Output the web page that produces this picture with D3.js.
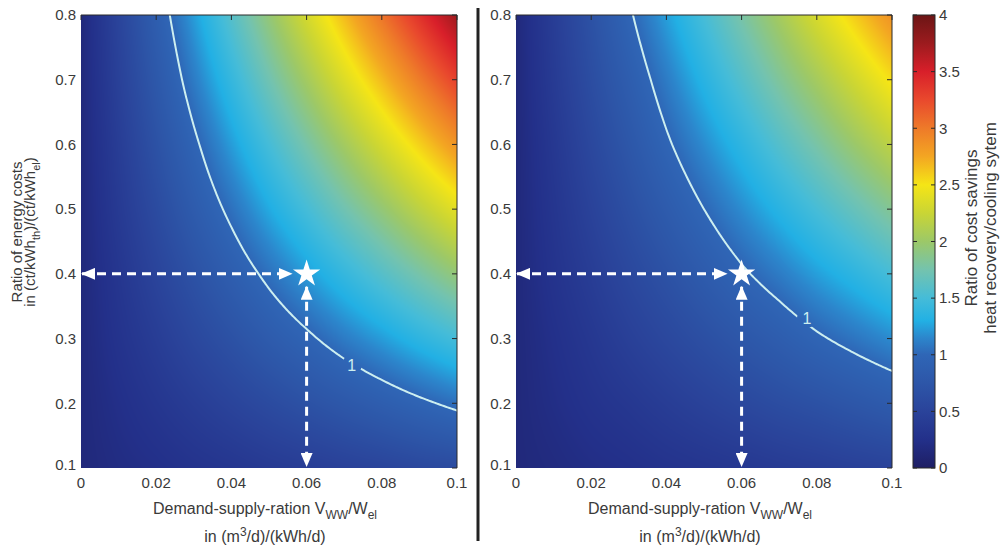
<!DOCTYPE html>
<html>
<head>
<meta charset="utf-8">
<script src="https://cdn.jsdelivr.net/npm/d3@7"></script>
<style>
  body { margin: 0; background: #fff; }
  text { font-family: "Liberation Sans", Arial, sans-serif; fill: #3a3a3a; }
</style>
</head>
<body>
<svg></svg>
<script>
//data grid (rows: y from 0.1 up to 0.8, columns: x from 0 to 0.1)
const xGrid = [0, 0.01, 0.02, 0.03, 0.04, 0.05, 0.06, 0.07, 0.08, 0.09, 0.1];
const yGrid = [0.1, 0.2, 0.3, 0.4, 0.5, 0.6, 0.7, 0.8];

const leftValues = [
  [0.15, 0.20, 0.24, 0.29, 0.33, 0.38, 0.42, 0.47, 0.51, 0.56, 0.60],
  [0.15, 0.24, 0.33, 0.42, 0.51, 0.60, 0.69, 0.78, 0.87, 0.96, 1.05],
  [0.15, 0.29, 0.42, 0.56, 0.69, 0.83, 0.96, 1.10, 1.23, 1.37, 1.50],
  [0.15, 0.33, 0.51, 0.69, 0.87, 1.05, 1.23, 1.41, 1.59, 1.77, 1.95],
  [0.15, 0.38, 0.60, 0.83, 1.05, 1.28, 1.50, 1.73, 1.95, 2.18, 2.40],
  [0.15, 0.42, 0.69, 0.96, 1.23, 1.50, 1.77, 2.04, 2.31, 2.58, 2.85],
  [0.15, 0.47, 0.78, 1.10, 1.41, 1.73, 2.04, 2.36, 2.67, 2.99, 3.30],
  [0.15, 0.51, 0.87, 1.23, 1.59, 1.95, 2.31, 2.67, 3.03, 3.39, 3.75]
];

const rightValues = [
  [0.15, 0.18, 0.22, 0.25, 0.29, 0.32, 0.35, 0.39, 0.42, 0.46, 0.49],
  [0.15, 0.22, 0.29, 0.35, 0.42, 0.49, 0.56, 0.63, 0.69, 0.76, 0.83],
  [0.15, 0.25, 0.35, 0.46, 0.56, 0.66, 0.76, 0.86, 0.97, 1.07, 1.17],
  [0.15, 0.29, 0.42, 0.56, 0.69, 0.83, 0.97, 1.10, 1.24, 1.37, 1.51],
  [0.15, 0.32, 0.49, 0.66, 0.83, 1.00, 1.17, 1.34, 1.51, 1.68, 1.85],
  [0.15, 0.35, 0.56, 0.76, 0.97, 1.17, 1.37, 1.58, 1.78, 1.99, 2.19],
  [0.15, 0.39, 0.63, 0.86, 1.10, 1.34, 1.58, 1.82, 2.05, 2.29, 2.53],
  [0.15, 0.42, 0.69, 0.97, 1.24, 1.51, 1.78, 2.05, 2.33, 2.60, 2.87]
];

const xTicks = [0, 0.02, 0.04, 0.06, 0.08, 0.1];
const yTicks = [0.1, 0.2, 0.3, 0.4, 0.5, 0.6, 0.7, 0.8];
const colorTicks = [0, 0.5, 1, 1.5, 2, 2.5, 3, 3.5, 4];
const contourLevels = [1];
const labelPoints = [{x: 0.072, y: 0.259}, {x: 0.0774, y: 0.332}];
const markPoint = {x: 0.06, y: 0.4};

//muted jet colormap, as printed
const cmapStops = [0, 0.25, 0.5, 0.75, 1, 1.15, 1.3, 1.5, 1.75, 2, 2.25, 2.5, 2.75, 3, 3.25, 3.5, 3.75, 4];
const cmapColors = ["#1e1e64", "#23308a", "#2a439a", "#2d56a8", "#2f66b6", "#2c86cc", "#22b0e4", "#45bcd8",
  "#74c3ae", "#9cc868", "#c9d535", "#f5e516", "#f3a622", "#ee7a29", "#e9492d", "#d81f2a", "#9c1b1e", "#6c1515"];
const color = d3.scaleLinear().domain(cmapStops).range(cmapColors).clamp(true);

//Set the dimensions of the SVG container
const width = 1008;
const height = 549;
const plotTop = 15, plotBottom = 468;
const panels = [
  {left: 81, right: 457, values: leftValues, label: labelPoints[0]},
  {left: 516, right: 892, values: rightValues, label: labelPoints[1]}
];

const svg = d3.select("svg")
  .attr("width", width)
  .attr("height", height);

const defs = svg.append("defs");

//arrow head
defs.append("marker")
  .attr("id", "arrow")
  .attr("viewBox", "0 0 14 12")
  .attr("refX", 13).attr("refY", 6)
  .attr("markerWidth", 14).attr("markerHeight", 12)
  .attr("markerUnits", "userSpaceOnUse")
  .attr("orient", "auto-start-reverse")
  .append("path")
  .attr("d", "M0,0 L14,6 L0,12 Z")
  .attr("fill", "#fff");

//bilinear lookup in the grid
const gx = d3.scaleLinear().domain([xGrid[0], xGrid[xGrid.length - 1]]).range([0, xGrid.length - 1]);
const gy = d3.scaleLinear().domain([yGrid[0], yGrid[yGrid.length - 1]]).range([0, yGrid.length - 1]);
function valueAt(m, x, y) {
  const fx = gx(x), fy = gy(y);
  const i = Math.max(0, Math.min(xGrid.length - 2, Math.floor(fx)));
  const j = Math.max(0, Math.min(yGrid.length - 2, Math.floor(fy)));
  const tx = fx - i, ty = fy - j;
  const a = m[j][i] * (1 - tx) + m[j][i + 1] * tx;
  const b = m[j + 1][i] * (1 - tx) + m[j + 1][i + 1] * tx;
  return a * (1 - ty) + b * ty;
}

panels.forEach((p, k) => {
  const x = d3.scaleLinear().domain([0, 0.1]).range([p.left, p.right]);
  const y = d3.scaleLinear().domain([0.1, 0.8]).range([plotBottom, plotTop]);
  const pw = p.right - p.left, ph = plotBottom - plotTop;

  //heatmap through a canvas
  const canvas = document.createElement("canvas");
  canvas.width = pw; canvas.height = ph;
  const ctx = canvas.getContext("2d");
  const img = ctx.createImageData(pw, ph);
  for (let r = 0; r < ph; r++) {
    const yv = y.invert(plotTop + r + 0.5);
    for (let c = 0; c < pw; c++) {
      const xv = x.invert(p.left + c + 0.5);
      const col = d3.rgb(color(valueAt(p.values, xv, yv)));
      const o = (r * pw + c) * 4;
      img.data[o] = col.r; img.data[o + 1] = col.g; img.data[o + 2] = col.b; img.data[o + 3] = 255;
    }
  }
  ctx.putImageData(img, 0, 0);
  svg.append("image")
    .attr("x", p.left).attr("y", plotTop)
    .attr("width", pw).attr("height", ph)
    .attr("preserveAspectRatio", "none")
    .attr("href", canvas.toDataURL());

  //contour line, sampled a bit past the edges and clipped
  const x0 = -0.01, x1 = 0.11, y0 = 0.05, y1 = 0.85;
  const nx = 241, ny = 161;
  const sx = (x1 - x0) / (nx - 1), sy = (y1 - y0) / (ny - 1);
  const grid = new Array(nx * ny);
  for (let j = 0; j < ny; j++)
    for (let i = 0; i < nx; i++)
      grid[j * nx + i] = valueAt(p.values, x0 + i * sx, y0 + j * sy);
  const contours = d3.contours().size([nx, ny]).thresholds(contourLevels)(grid);
  const path = d3.geoPath(d3.geoTransform({
    point(px, py) { this.stream.point(x(x0 + (px - 0.5) * sx), y(y0 + (py - 0.5) * sy)); }
  }));

  defs.append("clipPath").attr("id", "clip" + k)
    .append("rect").attr("x", p.left).attr("y", plotTop).attr("width", pw).attr("height", ph);
  const mask = defs.append("mask").attr("id", "mask" + k)
    .attr("maskUnits", "userSpaceOnUse")
    .attr("x", 0).attr("y", 0).attr("width", width).attr("height", height);
  mask.append("rect").attr("width", width).attr("height", height).attr("fill", "#fff");
  mask.append("circle").attr("cx", x(p.label.x)).attr("cy", y(p.label.y)).attr("r", 10).attr("fill", "#000");

  svg.append("g").attr("clip-path", `url(#clip${k})`)
    .append("g").attr("mask", `url(#mask${k})`)
    .selectAll("path").data(contours).enter().append("path")
    .attr("d", path)
    .attr("fill", "none")
    .attr("stroke", "#cdeff0")
    .attr("stroke-width", 2);

  svg.append("text")
    .attr("x", x(p.label.x)).attr("y", y(p.label.y))
    .attr("text-anchor", "middle").attr("dy", "0.36em")
    .style("fill", "#cdeff0").style("font-size", "16px")
    .text(contourLevels[0]);

  //arrows and star
  const sxp = x(markPoint.x), syp = y(markPoint.y);
  svg.append("line")
    .attr("x1", x(0) + 1).attr("y1", syp).attr("x2", sxp - 15).attr("y2", syp)
    .attr("stroke", "#fff").attr("stroke-width", 3).attr("stroke-dasharray", "9,6")
    .attr("marker-start", "url(#arrow)").attr("marker-end", "url(#arrow)");
  svg.append("line")
    .attr("x1", sxp).attr("y1", syp + 13).attr("x2", sxp).attr("y2", y(0.1) - 2)
    .attr("stroke", "#fff").attr("stroke-width", 3).attr("stroke-dasharray", "9,6")
    .attr("marker-start", "url(#arrow)").attr("marker-end", "url(#arrow)");
  svg.append("path")
    .attr("transform", `translate(${sxp},${syp})`)
    .attr("d", d3.symbol(d3.symbolStar, 230)())
    .attr("fill", "#fff");

  //axes: ticks pointing inward like matlab
  const g = svg.append("g");
  g.append("path")
    .attr("d", `M${p.left},${plotTop}H${p.right}V${plotBottom}`)
    .attr("fill", "none").attr("stroke", "#2a2a2a").attr("stroke-width", 1);
  xTicks.forEach(t => {
    g.append("line").attr("x1", x(t)).attr("x2", x(t)).attr("y1", plotTop).attr("y2", plotTop + 5)
      .attr("stroke", "#2a2a2a");
    g.append("text").attr("x", x(t)).attr("y", plotBottom + 20)
      .attr("text-anchor", "middle").style("font-size", "15px")
      .text(d3.format("~g")(t));
  });
  yTicks.forEach(t => {
    g.append("line").attr("x1", p.right).attr("x2", p.right - 5).attr("y1", y(t)).attr("y2", y(t))
      .attr("stroke", "#2a2a2a");
    g.append("text").attr("x", p.left - 5).attr("y", y(t) - (t === 0.1 ? 3 : 0))
      .attr("text-anchor", "end").attr("dy", "0.35em").style("font-size", "15px")
      .text(d3.format(".1f")(t));
  });

  //x label
  const cx = (p.left + p.right) / 2 - 4;
  const l1 = g.append("text").attr("x", cx).attr("y", 514).attr("text-anchor", "middle").style("font-size", "16px");
  l1.append("tspan").text("Demand-supply-ration V");
  l1.append("tspan").attr("dy", 5).style("font-size", "12px").text("WW");
  l1.append("tspan").attr("dy", -5).text("/W");
  l1.append("tspan").attr("dy", 5).style("font-size", "12px").text("el");
  const l2 = g.append("text").attr("x", cx).attr("y", 542).attr("text-anchor", "middle").style("font-size", "16px");
  l2.append("tspan").text("in (m");
  l2.append("tspan").attr("dy", -6).style("font-size", "12px").text("3");
  l2.append("tspan").attr("dy", 6).text("/d)/(kWh/d)");
});

//y label
const yl = svg.append("g").attr("transform", "translate(0,232) rotate(-90)");
yl.append("text").attr("x", 0).attr("y", 22).attr("text-anchor", "middle").style("font-size", "15px")
  .text("Ratio of energy costs");
const yl2 = yl.append("text").attr("x", 0).attr("y", 35).attr("text-anchor", "middle").style("font-size", "15px");
yl2.append("tspan").text("in (ct/kWh");
yl2.append("tspan").attr("dy", 5).style("font-size", "11px").text("th");
yl2.append("tspan").attr("dy", -5).text(")/(ct/kWh");
yl2.append("tspan").attr("dy", 5).style("font-size", "11px").text("el");
yl2.append("tspan").attr("dy", -5).text(")");

//divider
svg.append("line").attr("x1", 478).attr("x2", 478).attr("y1", 8).attr("y2", 541)
  .attr("stroke", "#222").attr("stroke-width", 3);

//colorbar
const cbLeft = 913, cbRight = 935;
const cy = d3.scaleLinear().domain([0, 4]).range([plotBottom, plotTop]);
const grad = defs.append("linearGradient").attr("id", "cbar")
  .attr("x1", 0).attr("y1", 1).attr("x2", 0).attr("y2", 0);
cmapStops.forEach((s, i) => grad.append("stop").attr("offset", s / 4).attr("stop-color", cmapColors[i]));
svg.append("rect").attr("x", cbLeft).attr("y", plotTop).attr("width", cbRight - cbLeft)
  .attr("height", plotBottom - plotTop).attr("fill", "url(#cbar)")
  .attr("stroke", "#2a2a2a").attr("stroke-width", 1);
colorTicks.forEach(t => {
  svg.append("line").attr("x1", cbLeft).attr("x2", cbLeft + 4).attr("y1", cy(t)).attr("y2", cy(t)).attr("stroke", "#2a2a2a");
  svg.append("line").attr("x1", cbRight).attr("x2", cbRight - 4).attr("y1", cy(t)).attr("y2", cy(t)).attr("stroke", "#2a2a2a");
  svg.append("text").attr("x", cbRight + 4).attr("y", cy(t)).attr("dy", "0.35em")
    .style("font-size", "15px").text(d3.format("~g")(t));
});
const cl = svg.append("g").attr("transform", "translate(0,228) rotate(-90)");
cl.append("text").attr("x", 0).attr("y", 977).attr("text-anchor", "middle").style("font-size", "17px")
  .text("Ratio of cost savings");
cl.append("text").attr("x", 0).attr("y", 996).attr("text-anchor", "middle").style("font-size", "17px")
  .text("heat recovery/cooling sytem");
</script>
</body>
</html>
